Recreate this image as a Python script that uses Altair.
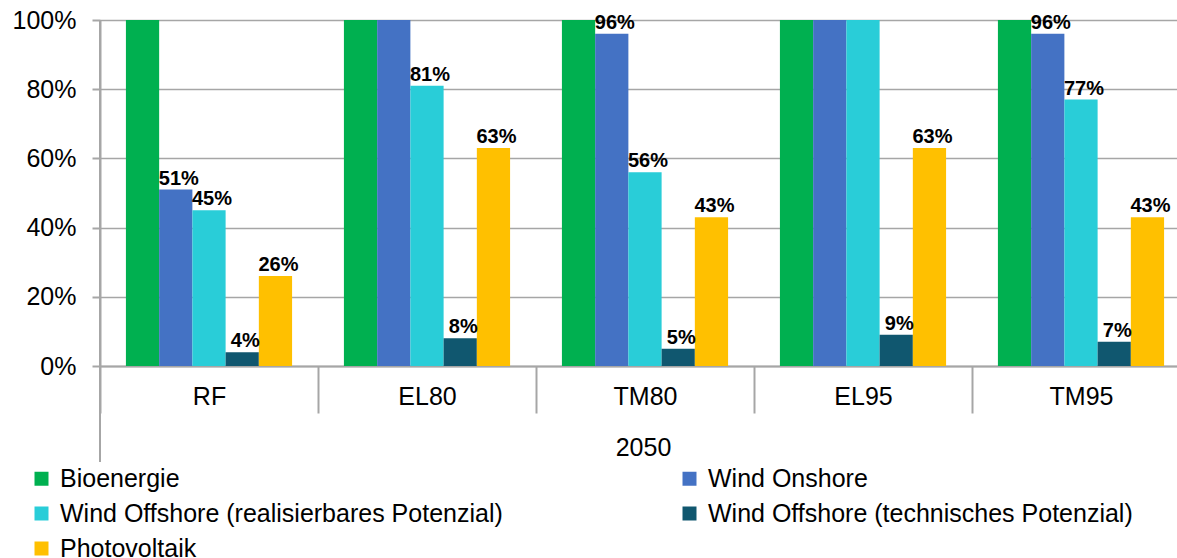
import altair as alt
import pandas as pd

categories = ["RF", "EL80", "TM80", "EL95", "TM95"]
series = [
    "Bioenergie",
    "Wind Onshore",
    "Wind Offshore (realisierbares Potenzial)",
    "Wind Offshore (technisches Potenzial)",
    "Photovoltaik",
]
colors = ["#00B050", "#4472C4", "#29CDD8", "#10576F", "#FFC000"]

bioenergie = [100, 100, 100, 100, 100]
wind_onshore = [51, 100, 96, 100, 96]
offshore_real = [45, 81, 56, 100, 77]
offshore_tech = [4, 8, 5, 9, 7]
photovoltaik = [26, 63, 43, 63, 43]

rows = []
for s, vals in zip(series, [bioenergie, wind_onshore, offshore_real, offshore_tech, photovoltaik]):
    for c, v in zip(categories, vals):
        rows.append({"cat": c, "series": s, "value": v})
df = pd.DataFrame(rows)

FONT = "Liberation Sans"
GRAY = "#A6A6A6"
FS = 25

x_enc = alt.X(
    "cat:N",
    sort=categories,
    scale=alt.Scale(range=[0, 1090], paddingInner=0, paddingOuter=0),
    axis=alt.Axis(
        title="2050",
        tickBand="extent",
        tickSize=47,
        tickColor=GRAY,
        tickWidth=2,
        domainColor=GRAY,
        domainWidth=2,
        labelAngle=0,
        labelFontSize=FS,
        labelFont=FONT,
        labelColor="black",
        labelPadding=-29,
        titleFontSize=FS,
        titleFont=FONT,
        titleFontWeight="normal",
        titleColor="black",
        titleX=543,
        titleY=81,
        titleAlign="center",
        titleBaseline="middle",
    ),
)
xoff = alt.XOffset("series:N", sort=series, scale=alt.Scale(paddingInner=0, paddingOuter=0.78))
y_enc = alt.Y(
    "value:Q",
    scale=alt.Scale(domain=[0, 100]),
    axis=alt.Axis(
        values=[0, 20, 40, 60, 80, 100],
        labelExpr="datum.value + '%'",
        title=None,
        tickSize=8,
        tickColor=GRAY,
        tickWidth=2,
        labelPadding=16,
        labelFontSize=FS,
        labelFont=FONT,
        labelColor="black",
        gridColor=GRAY,
        gridWidth=1.5,
        domainColor=GRAY,
        domainWidth=2,
    ),
)

base = alt.Chart(df)

bars = base.mark_bar().encode(
    x=x_enc,
    xOffset=xoff,
    y=y_enc,
    color=alt.Color(
        "series:N",
        sort=series,
        scale=alt.Scale(domain=series, range=colors),
        legend=alt.Legend(
            orient="none",
            legendX=-71,
            legendY=446,
            columns=2,
            direction="horizontal",
            title=None,
            symbolType="square",
            symbolSize=196,
            symbolStrokeWidth=0,
            labelFontSize=FS,
            labelFont=FONT,
            labelColor="black",
            labelLimit=700,
            labelOffset=6,
            columnPadding=174,
            rowPadding=9,
        ),
    ),
)

labels = (
    base.transform_filter("datum.value < 100")
    .transform_calculate(label="datum.value + '%'")
    .mark_text(baseline="bottom", dy=-1, dx=3, fontWeight="bold", fontSize=20, font=FONT, color="black")
    .encode(x=x_enc, xOffset=xoff, y=y_enc, text="label:N")
)

ext = (
    alt.Chart(pd.DataFrame({"a": [0]}))
    .mark_rule(color=GRAY, strokeWidth=2)
    .encode(x=alt.value(0), y=alt.value(0), y2=alt.value(442))
)

chart = (
    alt.layer(bars, labels, ext)
    .properties(
        width=1077,
        height=346,
        autosize=alt.AutoSizeParams(type="none"),
        padding={"left": 100, "top": 20, "right": 0, "bottom": 192},
        background="white",
    )
    .configure_view(stroke=None)
)

chart.save("out.html", embed_options={"renderer": "svg", "actions": False})
